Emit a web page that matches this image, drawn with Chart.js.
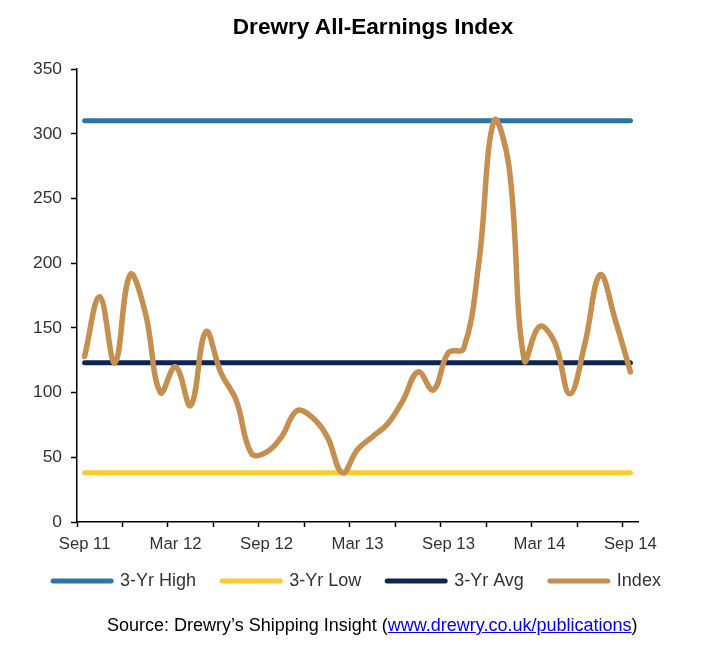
<!DOCTYPE html>
<html>
<head>
<meta charset="utf-8">
<title>Drewry All-Earnings Index</title>
<script src="https://cdn.jsdelivr.net/npm/chart.js@4.4.1/dist/chart.umd.min.js"></script>
<style>
    html, body { margin: 0; padding: 0; background: #fff; }
    #wrap { position: relative; width: 723px; height: 649px; font-family: "Liberation Sans", Arial, sans-serif; }
    #chart { position: absolute; left: 0; top: 0; }
    #title { position: absolute; left: 0; top: 14px; width: 746px; text-align: center; font-weight: bold; font-size: 22.6px; line-height: 26px; color: #000; }
    #source { position: absolute; left: 107px; top: 614px; font-size: 18px; line-height: 22px; color: #000; white-space: nowrap; }
    #source a { color: #0000ee; text-decoration: underline; }
</style>
</head>
<body>
<div id="wrap">
    <canvas id="chart" width="723" height="649"></canvas>
    <div id="title">Drewry All-Earnings Index</div>
    <div id="source">Source: Drewry’s Shipping Insight (<a href="#">www.drewry.co.uk/publications</a>)</div>
</div>
<script>
// Meses (um ponto por mês, Sep 11 a Sep 14)
const months = [
    'Sep 11', 'Oct 11', 'Nov 11', 'Dec 11', 'Jan 12', 'Feb 12', 'Mar 12', 'Apr 12', 'May 12', 'Jun 12',
    'Jul 12', 'Aug 12', 'Sep 12', 'Oct 12', 'Nov 12', 'Dec 12', 'Jan 13', 'Feb 13', 'Mar 13', 'Apr 13',
    'May 13', 'Jun 13', 'Jul 13', 'Aug 13', 'Sep 13', 'Oct 13', 'Nov 13', 'Dec 13', 'Jan 14', 'Feb 14',
    'Mar 14', 'Apr 14', 'May 14', 'Jun 14', 'Jul 14', 'Aug 14', 'Sep 14'
];

// Rótulos do eixo X (a cada 6 meses)
const tickLabels = ['Sep 11', 'Mar 12', 'Sep 12', 'Mar 13', 'Sep 13', 'Mar 14', 'Sep 14'];

// Valores
const indexValues = [
    128, 174, 123, 191, 162, 100, 120, 90, 147, 115,
    94, 53, 54, 66, 86, 81, 66, 38, 56, 66,
    76, 94, 116, 102, 131, 134, 200, 310, 274, 125,
    151, 139, 99, 138, 191, 156, 116
];
const highValue = 310;
const lowValue = 38;
const avgValue = 123;

const yTicks = [0, 50, 100, 150, 200, 250, 300, 350];

const FONT = '"Liberation Sans", Arial, sans-serif';

function flat(v) {
    return months.map(() => v);
}

// Sobe a legenda um pouco (o eixo X precisa de altura para não cortar os rótulos)
const legendShift = {
    id: 'legendShift',
    afterLayout(chart) {
        if (chart.legend) {
            chart.legend.top -= 12;
            chart.legend.bottom -= 12;
        }
    }
};

const ctx = document.getElementById('chart').getContext('2d');

new Chart(ctx, {
    type: 'line',
    data: {
        labels: months,
        datasets: [
            { label: '3-Yr High', data: flat(highValue), borderColor: '#2874ad', order: 1 },
            { label: '3-Yr Low', data: flat(lowValue), borderColor: '#ffc930', order: 1 },
            { label: '3-Yr Avg', data: flat(avgValue), borderColor: '#0e2553', order: 1 },
            { label: 'Index', data: indexValues, borderColor: '#c48f4f', order: 0, tension: 0.4, borderWidth: 5.5 }
        ]
    },
    plugins: [legendShift],
    options: {
        responsive: false,
        animation: false,
        layout: { padding: { top: 69, left: 0, right: 9, bottom: 37 } },
        elements: {
            point: { radius: 0 },
            line: { borderWidth: 5, borderCapStyle: 'round', borderJoinStyle: 'round', fill: false }
        },
        plugins: {
            title: { display: false },
            tooltip: { enabled: false },
            legend: {
                position: 'bottom',
                labels: {
                    usePointStyle: true,
                    pointStyleWidth: 58,
                    boxHeight: 18,
                    padding: 26,
                    color: '#333',
                    font: { family: FONT, size: 18 },
                    generateLabels: chart => chart.data.datasets.map((ds, i) => ({
                        text: ds.label,
                        strokeStyle: ds.borderColor,
                        fillStyle: ds.borderColor,
                        lineWidth: 5,
                        lineCap: 'round',
                        pointStyle: 'line',
                        hidden: false,
                        datasetIndex: i,
                        fontColor: '#333'
                    }))
                }
            }
        },
        scales: {
            x: {
                type: 'category',
                offset: true,
                afterFit: scale => { scale.height = 36; },
                grid: {
                    offset: true,
                    drawOnChartArea: false,
                    tickLength: 5,
                    tickWidth: 1.5,
                    tickColor: c => (c.index % 3 === 0 ? '#000' : 'rgba(0,0,0,0)')
                },
                border: { display: true, color: '#000', width: 1.5 },
                ticks: {
                    autoSkip: false,
                    maxRotation: 0,
                    padding: 7,
                    color: '#333',
                    font: { family: FONT, size: 16.7 },
                    callback: (v, i) => (i % 6 === 0 ? tickLabels[i / 6] : '')
                }
            },
            y: {
                min: 0,
                max: 350,
                afterFit: scale => { scale.width = 77; },
                afterBuildTicks: scale => { scale.ticks = yTicks.map(v => ({ value: v })); },
                grid: {
                    drawOnChartArea: false,
                    tickLength: 6,
                    tickWidth: 1.5,
                    tickColor: '#000'
                },
                border: { display: true, color: '#000', width: 1.5 },
                ticks: {
                    padding: 9,
                    color: '#333',
                    font: { family: FONT, size: 17.4 }
                }
            },
            // eixo vazio à direita, só para reservar espaço
            spacer: {
                type: 'linear',
                position: 'right',
                afterFit: scale => { scale.width = 76; },
                grid: { display: false },
                border: { display: false },
                ticks: { display: false }
            }
        }
    }
});
</script>
</body>
</html>
